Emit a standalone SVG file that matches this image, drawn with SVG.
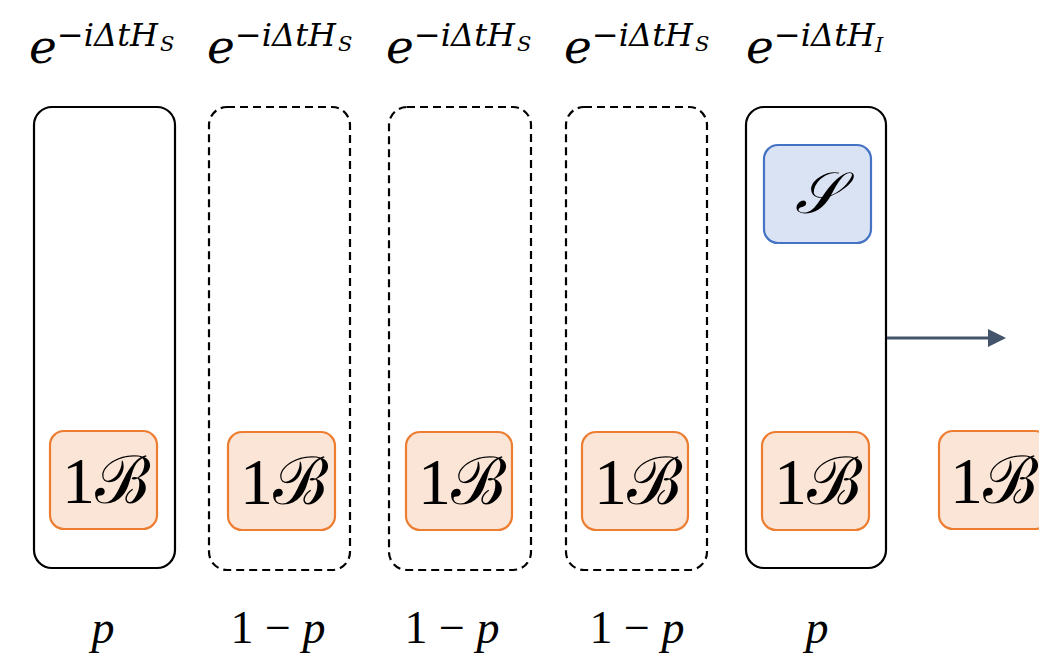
<svg xmlns="http://www.w3.org/2000/svg" width="1039" height="655" viewBox="0 0 1039 655">
<style>
.frame{fill:none;stroke:#000;stroke-width:2.2}
.dash{stroke-dasharray:8 5}
.bath{fill:#fbe5d6;stroke:#ed7d31;stroke-width:2.2}
.sys{fill:#dae3f3;stroke:#4472c4;stroke-width:2.2}
.m{font-family:"DejaVu Serif","Liberation Serif",serif;font-style:italic;fill:#000}
.e{font-size:47px}
.sup{font-size:32px}
.sub{font-size:21px}
.lbl{font-family:"Liberation Serif","DejaVu Serif",serif;font-size:66px;fill:#000;text-anchor:middle}
.prob{font-family:"Liberation Serif","DejaVu Serif",serif;font-size:46px;fill:#000}
.pi{font-family:"Liberation Serif","DejaVu Serif",serif;font-style:italic}
</style>
<defs>
<marker id="ah" markerWidth="6" markerHeight="6" refX="5" refY="3" orient="auto" markerUnits="strokeWidth">
<path d="M0,0 L6,3 L0,6 z" fill="#44546a"/>
</marker>
</defs>
<rect width="1039" height="655" fill="#fff"/>

<g id="titles">
<g id="title1"><text class="m e" x="29" y="63">e</text><text class="m sup" x="57" y="46">−iΔtH</text><text class="m sub" x="160" y="51">S</text></g>
<g id="title2"><text class="m e" x="207" y="63">e</text><text class="m sup" x="235" y="46">−iΔtH</text><text class="m sub" x="338" y="51">S</text></g>
<g id="title3"><text class="m e" x="386" y="63">e</text><text class="m sup" x="414" y="46">−iΔtH</text><text class="m sub" x="517" y="51">S</text></g>
<g id="title4"><text class="m e" x="564" y="63">e</text><text class="m sup" x="592" y="46">−iΔtH</text><text class="m sub" x="695" y="51">S</text></g>
<g id="title5"><text class="m e" x="746" y="63">e</text><text class="m sup" x="774" y="46">−iΔtH</text><text class="m sub" x="875" y="52">I</text></g>
</g>

<g id="step1">
<rect class="frame" x="34" y="107" width="141" height="461" rx="18"/>
<rect class="bath" x="50" y="431" width="107" height="98" rx="14"/>
<text class="lbl" x="106" y="503">1ℬ</text>
</g>
<g id="step2">
<rect class="frame dash" x="209" y="107" width="141" height="463" rx="18"/>
<rect class="bath" x="228" y="432" width="107" height="98" rx="14"/>
<text class="lbl" x="284" y="504">1ℬ</text>
</g>
<g id="step3">
<rect class="frame dash" x="389" y="107" width="142" height="463" rx="18"/>
<rect class="bath" x="406" y="432" width="106" height="98" rx="14"/>
<text class="lbl" x="462" y="504">1ℬ</text>
</g>
<g id="step4">
<rect class="frame dash" x="566" y="107" width="141" height="463" rx="18"/>
<rect class="bath" x="582" y="432" width="106" height="98" rx="14"/>
<text class="lbl" x="638" y="504">1ℬ</text>
</g>
<g id="step5">
<rect class="frame" x="746" y="107" width="140" height="461" rx="18"/>
<rect class="sys" x="764" y="145" width="107" height="98" rx="14"/>
<text class="m" x="817" y="213" font-size="58" text-anchor="middle">𝒮</text>
<rect class="bath" x="762" y="432" width="107" height="98" rx="14"/>
<text class="lbl" x="818" y="504">1ℬ</text>
</g>
<g id="bath-out">
<rect class="bath" x="939" y="431" width="110" height="98" rx="14"/>
<text class="lbl" x="994" y="503">1ℬ</text>
</g>

<g id="connectors">
<line x1="887" y1="338" x2="1003" y2="338" stroke="#44546a" stroke-width="3" marker-end="url(#ah)"/>
</g>

<g id="probs">
<text class="prob pi" x="103" y="643" text-anchor="middle">p</text>
<text class="prob" x="278" y="643" text-anchor="middle">1 − <tspan font-style="italic">p</tspan></text>
<text class="prob" x="452" y="643" text-anchor="middle">1 − <tspan font-style="italic">p</tspan></text>
<text class="prob" x="637" y="643" text-anchor="middle">1 − <tspan font-style="italic">p</tspan></text>
<text class="prob pi" x="817" y="643" text-anchor="middle">p</text>
</g>
</svg>
